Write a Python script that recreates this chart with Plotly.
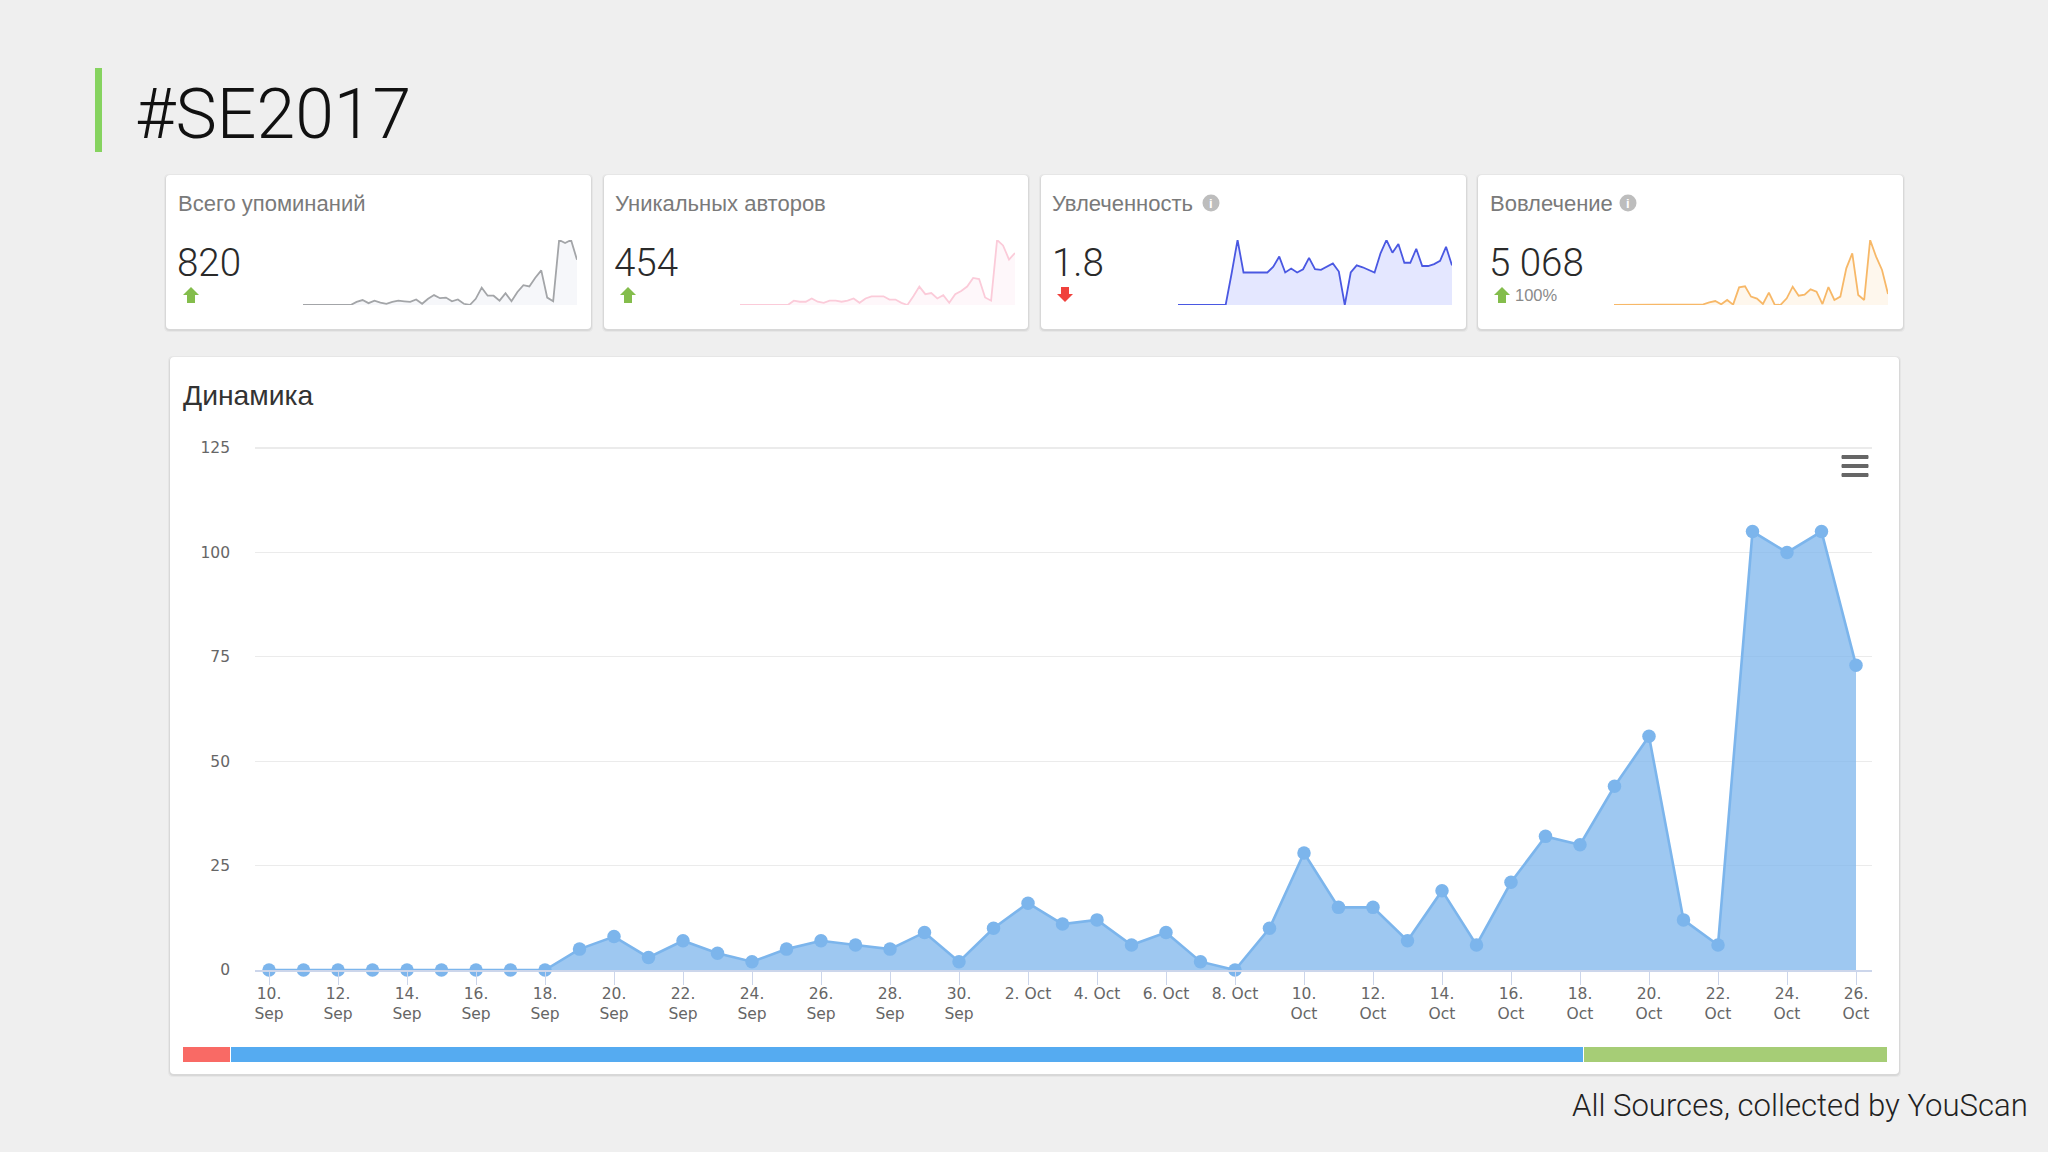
import pandas as pd
import plotly.graph_objects as go

W, H = 2048, 1152

# ---------- data ----------
dates = pd.date_range("2017-09-10", "2017-10-26").strftime("%Y-%m-%d").tolist()
mentions = [0, 0, 0, 0, 0, 0, 0, 0, 0, 5, 8, 3, 7, 4, 2, 5, 7, 6, 5, 9, 2, 10, 16, 11, 12, 6, 9, 2, 0, 10,
            28, 15, 15, 7, 19, 6, 21, 32, 30, 44, 56, 12, 6, 105, 100, 105, 73]
authors = [0, 0, 0, 0, 0, 0, 0, 0, 0, 4, 3, 3, 6, 3, 2, 4, 4, 3, 4, 6, 2, 6, 8, 8, 8, 5, 5, 2, 0, 8,
           17, 10, 11, 6, 9, 2, 10, 13, 17, 25, 24, 7, 4, 60, 55, 42, 48]
passion = [0, 0, 0, 0, 0, 0, 0, 0, 0, 0.97, 2.0, 1.0, 1.0, 1.0, 1.0, 1.0, 1.18, 1.49, 1.0, 1.12, 1.0, 1.1,
           1.45, 1.1, 1.08, 1.18, 1.28, 1.03, 0, 1.0, 1.22, 1.16, 1.08, 1.0, 1.59, 2.0, 1.61, 1.88, 1.3,
           1.3, 1.73, 1.2, 1.2, 1.26, 1.36, 1.79, 1.22]
engagement = [0, 0, 0, 0, 0, 0, 0, 0, 0, 0, 0, 0, 0, 0, 0, 8, 30, 45, 8, 57, 4, 200, 212, 95, 72, 11, 140, 0,
              4, 76, 208, 106, 117, 178, 151, 11, 204, 57, 95, 416, 586, 113, 57, 737, 548, 397, 125]

y_ticks = [0, 25, 50, 75, 100, 125]
x_tick_dates = dates[::2]
x_tick_labels = ["10.<br>Sep", "12.<br>Sep", "14.<br>Sep", "16.<br>Sep", "18.<br>Sep", "20.<br>Sep",
                 "22.<br>Sep", "24.<br>Sep", "26.<br>Sep", "28.<br>Sep", "30.<br>Sep", "2. Oct", "4. Oct",
                 "6. Oct", "8. Oct", "10.<br>Oct", "12.<br>Oct", "14.<br>Oct", "16.<br>Oct", "18.<br>Oct",
                 "20.<br>Oct", "22.<br>Oct", "24.<br>Oct", "26.<br>Oct"]

share_names = ["Негативные", "Нейтральные", "Позитивные"]
share_values = [23, 651, 146]
share_colors = ["#F96A65", "#55ABF1", "#A6CD76"]

card_titles = ["Всего упоминаний", "Уникальных авторов", "Увлеченность", "Вовлечение"]
card_numbers = ["820", "454", "1.8", "5 068"]

# ---------- helpers ----------
def px(x):
    return x / W

def py(y):
    return 1 - y / H

def rrect(x0, y0, x1, y1, r, fill):
    p = (f"M {px(x0 + r)} {py(y0)} L {px(x1 - r)} {py(y0)} Q {px(x1)} {py(y0)} {px(x1)} {py(y0 + r)} "
         f"L {px(x1)} {py(y1 - r)} Q {px(x1)} {py(y1)} {px(x1 - r)} {py(y1)} "
         f"L {px(x0 + r)} {py(y1)} Q {px(x0)} {py(y1)} {px(x0)} {py(y1 - r)} "
         f"L {px(x0)} {py(y0 + r)} Q {px(x0)} {py(y0)} {px(x0 + r)} {py(y0)} Z")
    return dict(type="path", xref="paper", yref="paper", path=p, fillcolor=fill,
                line=dict(width=0), layer="below")

def card(x0, y0, x1, y1):
    return [rrect(x0 - 2, y0 - 1, x1 + 2, y1 + 3, 5, "rgba(0,0,0,0.035)"),
            rrect(x0 - 1, y0, x1 + 1, y1 + 2, 5, "rgba(0,0,0,0.06)"),
            rrect(x0, y0, x1, y1, 4, "#FFFFFF")]

def arrow(cx, top, bottom, color, up=True):
    hw, sw = 8, 4
    mid = top + 8 if up else bottom - 8
    tip, tail = (top, bottom) if up else (bottom, top)
    pts = [(cx, tip), (cx + hw, mid), (cx + sw, mid), (cx + sw, tail),
           (cx - sw, tail), (cx - sw, mid), (cx - hw, mid)]
    p = "M " + " L ".join(f"{px(a)} {py(b)}" for a, b in pts) + " Z"
    return dict(type="path", xref="paper", yref="paper", path=p, fillcolor=color,
                line=dict(width=0), layer="above")

def label(x, y, text, size, color, anchor="left", family="Liberation Sans", weight=400):
    return dict(x=px(x), y=py(y), xref="paper", yref="paper", text=text, showarrow=False,
                xanchor=anchor, yanchor="middle", borderpad=0,
                font=dict(family=family, size=size, color=color, weight=weight))

fig = go.Figure()

# ---------- main area chart ----------
fig.add_trace(go.Scatter(
    x=dates, y=mentions, mode="lines+markers", fill="tozeroy", cliponaxis=False,
    line=dict(color="#7CB5EC", width=2.6), marker=dict(color="#7CB5EC", size=13.5),
    fillcolor="rgba(124,181,236,0.74)", hoverinfo="skip", showlegend=False,
    xaxis="x", yaxis="y"))

# ---------- sparklines ----------
sparks = [
    (mentions, 303, 577, "#A3A5A8", "rgba(225,229,238,0.3)"),
    (authors, 740, 1015, "#FBCBD9", "rgba(252,225,236,0.25)"),
    (passion, 1178, 1452, "#4A58E2", "rgba(205,212,255,0.55)"),
    (engagement, 1614, 1888, "#F7B868", "rgba(250,225,190,0.28)"),
]
axes = {}
for i, (vals, x0, x1, col, fillc) in enumerate(sparks):
    n = i + 2
    fig.add_trace(go.Scatter(x=dates, y=vals, mode="lines", fill="tozeroy", cliponaxis=False,
                             line=dict(color=col, width=1.8), fillcolor=fillc, hoverinfo="skip",
                             showlegend=False, xaxis=f"x{n}", yaxis=f"y{n}"))
    axes[f"xaxis{n}"] = dict(domain=[px(x0), px(x1)], range=[dates[0], dates[-1]], type="date",
                             visible=False, anchor=f"y{n}", automargin=False)
    axes[f"yaxis{n}"] = dict(domain=[py(305), py(240)], range=[0, max(vals)], visible=False,
                             anchor=f"x{n}", automargin=False)

# ---------- share strip ----------
for name, v, c in zip(share_names, share_values, share_colors):
    fig.add_trace(go.Bar(y=["share"], x=[v], orientation="h", name=name, marker=dict(color=c, line=dict(color="#FFFFFF", width=1)),
                         hoverinfo="skip", showlegend=False, xaxis="x6", yaxis="y6"))

# ---------- page chrome ----------
shapes = []
shapes.append(dict(type="rect", xref="paper", yref="paper", x0=px(95), x1=px(102), y0=py(152), y1=py(68),
                   fillcolor="#86D35F", line=dict(width=0), layer="below"))
for x0, x1 in [(166, 591), (604, 1028), (1041, 1466), (1478, 1903)]:
    shapes += card(x0, 175, x1, 329)
shapes += card(170, 357, 1899, 1074)

# arrows
shapes.append(arrow(191, 287, 303, "#84BD4C"))
shapes.append(arrow(628, 287, 303, "#84BD4C"))
shapes.append(arrow(1065, 287, 302, "#F0413C", up=False))
shapes.append(arrow(1502, 287, 303, "#84BD4C"))

# info icons
for cx in (1211, 1628):
    shapes.append(dict(type="circle", xref="paper", yref="paper", x0=px(cx - 8.5), x1=px(cx + 8.5),
                       y0=py(203 + 8.5), y1=py(203 - 8.5), fillcolor="#BDBDBD", line=dict(width=0), layer="above"))

# hamburger
for yy in (457, 466, 475):
    shapes.append(dict(type="rect", xref="paper", yref="paper", x0=px(1842), x1=px(1868), y0=py(yy + 1.5), y1=py(yy - 1.5),
                       fillcolor="#666666", line=dict(color="#666666", width=1), layer="above"))

annotations = [
    label(134, 114, "#SE2017", 69.7, "#111111", family="Roboto", weight=300),
    label(2029, 1105, "All Sources, collected by YouScan", 31.1, "#222222", anchor="right", family="Roboto", weight=300),
    label(182, 395, "Динамика", 28.3, "#333333"),
    label(1514, 295, "100%", 16.5, "#8A8A8A"),
]
for x, t in zip((177, 614, 1051, 1489), card_titles):
    annotations.append(label(x, 203, t, 22, "#7A7A7A"))
for x, t in zip((176, 613, 1051, 1488), card_numbers):
    annotations.append(label(x, 262, t, 38.5, "#2A2A2A", family="Roboto", weight=300))
for cx in (1211, 1628):
    annotations.append(label(cx, 203, "<b>i</b>", 13, "#FFFFFF", anchor="center"))

fig.update_layout(
    template="none",
    width=W, height=H, autosize=False, margin=dict(l=0, r=0, t=0, b=0, pad=0),
    paper_bgcolor="#EFEFEF", plot_bgcolor="rgba(0,0,0,0)",
    barmode="stack", bargap=0, showlegend=False,
    shapes=shapes, annotations=annotations,
    xaxis=dict(domain=[px(255), px(1872)], type="date", automargin=False,
               range=["2017-09-09 14:15", "2017-10-26 11:08"],
               tickmode="array", tickvals=x_tick_dates, ticktext=x_tick_labels, tickangle=0,
               ticks="outside", ticklen=13, tickwidth=1, tickcolor="#CCD6EB", ticklabelstandoff=-4,
               showline=True, linecolor="#CCD6EB", linewidth=1.5, showgrid=False, zeroline=False,
               tickfont=dict(family="DejaVu Sans", size=15.5, color="#666666"), anchor="y"),
    yaxis=dict(domain=[py(970), py(446.75)], range=[0, 125.3], tickmode="array", tickvals=y_ticks,
               showgrid=True, gridcolor="#EBEBEB", gridwidth=1.3, zeroline=False, showline=False, automargin=False,
               ticks="", ticklabelstandoff=24,
               tickfont=dict(family="DejaVu Sans", size=15.5, color="#666666"), anchor="x"),
    xaxis6=dict(domain=[px(182.5), px(1887)], range=[0, sum(share_values)], visible=False, anchor="y6", automargin=False),
    yaxis6=dict(domain=[py(1062), py(1046)], visible=False, anchor="x6", automargin=False),
    **axes,
)

fig.write_html("out.html", config=dict(displayModeBar=False, staticPlot=True),
               post_script="document.body.style.margin='0';document.body.style.background='#EFEFEF';")
